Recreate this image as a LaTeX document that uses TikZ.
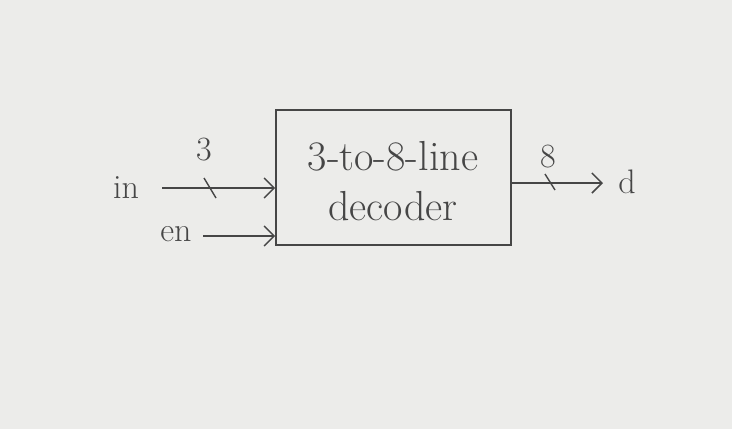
\documentclass[tikz,border=0pt]{standalone}
\usetikzlibrary{arrows.meta}
\definecolor{paper}{RGB}{236,236,234}
\definecolor{pencil}{RGB}{70,70,70}
\tikzset{
  wire/.style={draw=pencil, line width=1.5pt, -{Straight Barb[length=10pt,width=20pt]}},
  lbl/.style={text=pencil, font=\fontsize{34}{38}\selectfont, inner sep=0pt},
  boxtxt/.style={text=pencil, font=\fontsize{42}{50}\selectfont, inner sep=0pt, align=center},
  busmark/.style={draw=pencil, line width=1.4pt},
  box/.style={draw=pencil, line width=1.6pt, minimum width=235pt, minimum height=135pt, inner sep=0pt}
}
\begin{document}
\begin{tikzpicture}[x=1pt,y=-1pt]
  \fill[paper] (0,0) rectangle (732,429);
  \useasboundingbox (0,0) rectangle (732,429);
  \node[box] (dec) at (393.5,177.5) {};
  \node[boxtxt] (txt) at (393,181) {3-to-8-line\\decoder};
  \node[lbl] (in) at (126,188) {in};
  \node[lbl] (en) at (176,234) {en};
  \node[lbl] (d) at (627,182) {d};
  \coordinate (inS) at (162,188);
  \coordinate (inE) at (dec.west |- inS);
  \coordinate (enS) at (203,236);
  \coordinate (enE) at (dec.west |- enS);
  \coordinate (outS) at (dec.east |- 0,183);
  \coordinate (outE) at (603,183);
  \draw[wire] (inS) -- (inE);
  \draw[wire] (enS) -- (enE);
  \draw[wire] (outS) -- (outE);
  \draw[busmark] (204,178) -- (216,198);
  \draw[busmark] (545,174) -- (555,190);
  \node[lbl] (n3) at (204,150) {3};
  \node[lbl] (n8) at (548,157) {8};
\end{tikzpicture}
\end{document}
